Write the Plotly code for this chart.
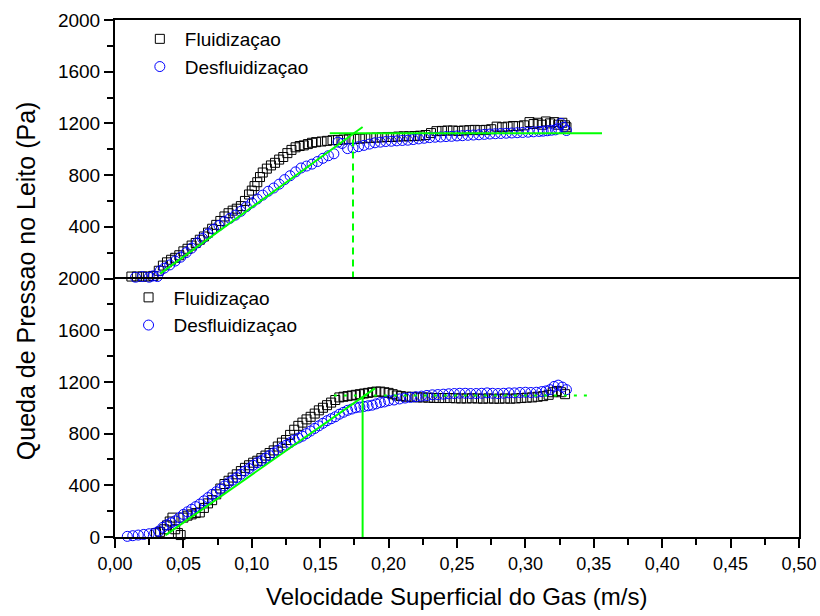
import plotly.graph_objects as go
from plotly.subplots import make_subplots

# ---------------- data ----------------
# Top panel - Fluidizacao (black squares)
top_flu_x = [0.012,0.016,0.020,0.024,0.028,0.032,0.035,0.038,0.041,0.044,0.047,0.050,0.053,0.056,0.059,0.062,
             0.065,0.068,0.071,0.074,0.077,0.080,0.083,0.086,0.089,0.092,0.095,0.098,0.100,0.102,0.104,0.106,
             0.108,0.111,0.114,0.117,0.120,0.123,0.126,0.129,0.132,0.135,0.138,0.141,0.144,0.147,0.151,0.155,
             0.159,0.163,0.167,0.171,0.175,0.179,0.183,0.187,0.191,0.195,0.199,0.203,0.207,0.211,0.215,0.219,
             0.223,0.227,0.231,0.235,0.239,0.243,0.247,0.251,0.255,0.259,0.263,0.267,0.271,0.275,0.279,0.283,
             0.287,0.291,0.295,0.299,0.303,0.306,0.309,0.312,0.315,0.318,0.321,0.324,0.327,0.329,0.330]
top_flu_y = [15,15,15,15,20,60,100,125,145,160,180,210,230,255,275,300,
             325,355,385,415,445,480,505,525,540,560,600,650,680,715,745,785,
             820,850,875,895,920,940,970,995,1015,1025,1030,1040,1050,1055,1060,1065,
             1070,1072,1075,1078,1080,1082,1085,1088,1090,1092,1095,1095,1098,1100,1100,1102,
             1105,1110,1125,1140,1142,1145,1145,1142,1145,1148,1150,1148,1150,1155,1175,1170,
             1175,1180,1178,1185,1210,1195,1205,1190,1215,1200,1210,1190,1205,1185,1170]

# Top panel - Desfluidizacao (blue circles)
top_des_x = [0.015,0.020,0.025,0.028,0.031,0.033,0.036,0.040,0.044,0.048,0.052,0.056,0.060,0.064,0.068,0.072,
             0.076,0.080,0.084,0.088,0.092,0.096,0.100,0.104,0.108,0.112,0.116,0.120,0.124,0.128,0.132,0.136,
             0.140,0.144,0.148,0.152,0.156,0.160,0.163,0.166,0.170,0.174,0.178,0.182,0.186,0.190,0.194,0.198,
             0.202,0.206,0.210,0.214,0.218,0.222,0.226,0.230,0.234,0.238,0.242,0.246,0.250,0.254,0.258,0.262,
             0.266,0.270,0.274,0.278,0.282,0.286,0.290,0.294,0.298,0.302,0.306,0.310,0.313,0.316,0.319,0.322,
             0.324,0.326,0.328,0.330]
top_des_y = [10,15,10,20,15,60,80,105,135,165,200,235,275,310,345,380,
             410,440,465,490,520,555,585,615,645,675,700,730,765,795,825,855,
             870,885,905,930,950,965,1055,1045,1005,1010,1020,1030,1040,1050,1055,1060,
             1062,1065,1068,1070,1075,1080,1085,1090,1093,1095,1098,1100,1103,1105,1108,1110,
             1112,1115,1118,1120,1122,1124,1126,1128,1130,1132,1135,1138,1140,1143,1147,1150,
             1160,1200,1170,1145]

# Bottom panel - Fluidizacao (black squares)
bot_flu_x = [0.030,0.033,0.036,0.038,0.040,0.042,0.044,0.046,0.048,0.050,0.053,0.056,0.059,0.062,0.065,0.068,
             0.071,0.074,0.077,0.080,0.083,0.086,0.089,0.092,0.095,0.098,0.101,0.104,0.107,0.110,0.113,0.116,
             0.119,0.122,0.125,0.128,0.131,0.134,0.137,0.140,0.143,0.146,0.149,0.152,0.155,0.158,0.161,0.164,
             0.167,0.170,0.173,0.176,0.179,0.182,0.185,0.188,0.191,0.194,0.197,0.200,0.203,0.206,0.209,0.213,
             0.217,0.221,0.225,0.229,0.233,0.237,0.241,0.245,0.249,0.253,0.257,0.261,0.265,0.269,0.273,0.277,
             0.281,0.285,0.289,0.293,0.297,0.301,0.305,0.309,0.313,0.317,0.320,0.323,0.326,0.329]
bot_flu_y = [30,40,60,90,120,150,60,30,15,150,165,175,185,190,225,260,
             285,330,375,410,435,460,485,510,535,555,575,590,610,630,650,670,
             700,730,750,790,830,860,885,910,930,955,980,1000,1020,1040,1060,1080,
             1085,1090,1095,1100,1105,1110,1115,1120,1125,1125,1120,1115,1105,1095,1090,1085,
             1085,1080,1080,1078,1076,1075,1075,1075,1073,1072,1072,1073,1072,1070,1072,1070,
             1070,1072,1070,1072,1075,1078,1080,1085,1090,1100,1120,1130,1120,1105]

# Bottom panel - Desfluidizacao (blue circles)
bot_des_x = [0.009,0.013,0.017,0.021,0.025,0.029,0.032,0.035,0.038,0.041,0.044,0.047,0.050,0.053,0.056,0.059,
             0.062,0.065,0.068,0.071,0.074,0.077,0.080,0.083,0.086,0.089,0.092,0.095,0.098,0.101,0.104,0.107,
             0.110,0.113,0.116,0.119,0.122,0.125,0.128,0.131,0.134,0.137,0.140,0.143,0.146,0.149,0.152,0.155,
             0.158,0.161,0.164,0.167,0.170,0.173,0.176,0.179,0.182,0.185,0.188,0.191,0.194,0.197,0.200,0.204,
             0.208,0.212,0.216,0.220,0.224,0.228,0.232,0.236,0.240,0.244,0.248,0.252,0.256,0.260,0.264,0.268,
             0.272,0.276,0.280,0.284,0.288,0.292,0.296,0.300,0.304,0.308,0.312,0.315,0.318,0.321,0.324,0.327,0.330]
bot_des_y = [5,10,15,20,25,30,45,75,95,110,125,150,175,195,215,235,
             255,280,305,330,350,370,395,420,440,460,485,510,530,555,575,590,
             610,630,650,670,690,710,730,750,765,780,800,820,840,860,880,900,
             915,930,950,965,980,990,1000,1005,1010,1015,1020,1030,1040,1045,1055,1060,
             1068,1075,1080,1085,1090,1095,1100,1102,1105,1108,1110,1112,1112,1110,1110,1112,
             1115,1112,1110,1112,1115,1115,1118,1120,1118,1120,1125,1130,1140,1165,1175,1160,1140]

# Green guide lines
top_fit_x, top_fit_y = [0.033, 0.181], [38, 1172]
top_hor_x, top_hor_y = [0.157, 0.356], [1123, 1123]
top_ver_x, top_ver_y = [0.174, 0.174], [0, 1123]
bot_fit_x, bot_fit_y = [0.037, 0.190], [15, 1150]
bot_ver_x, bot_ver_y = [0.181, 0.181], [-12, 1085]
bot_hor_x, bot_hor_y = [0.160, 0.350], [1095, 1095]

x_ticks = [0.00, 0.05, 0.10, 0.15, 0.20, 0.25, 0.30, 0.35, 0.40, 0.45, 0.50]
x_tick_labels = ["0,00", "0,05", "0,10", "0,15", "0,20", "0,25", "0,30", "0,35", "0,40", "0,45", "0,50"]
top_y_ticks = [400, 800, 1200, 1600, 2000]
bot_y_ticks = [0, 400, 800, 1200, 1600, 2000]

# ---------------- figure ----------------
FONT = "Liberation Sans"
GREEN = "#00ff00"
BLUE = "#0000ff"

fig = make_subplots(rows=2, cols=1, shared_xaxes=True, vertical_spacing=0)

def add_markers(x, y, row, name, symbol, color, legend, size):
    fig.add_trace(go.Scatter(
        x=x, y=y, mode="markers", name=name, legend=legend,
        marker=dict(symbol=symbol, size=size, color=color, line=dict(width=1)),
        cliponaxis=False, showlegend=True), row=row, col=1)

def add_line(x, y, row, dash):
    fig.add_trace(go.Scatter(
        x=x, y=y, mode="lines", showlegend=False,
        line=dict(color=GREEN, width=2, dash=dash), cliponaxis=False), row=row, col=1)

add_markers(top_flu_x, top_flu_y, 1, "Fluidizaçao", "square-open", "black", "legend", 9)
add_markers(top_des_x, top_des_y, 1, "Desfluidizaçao", "circle-open", BLUE, "legend", 10)
add_line(top_fit_x, top_fit_y, 1, "solid")
add_line(top_hor_x, top_hor_y, 1, "solid")
add_line(top_ver_x, top_ver_y, 1, "7px,5px")

add_markers(bot_flu_x, bot_flu_y, 2, "Fluidizaçao", "square-open", "black", "legend2", 9)
add_markers(bot_des_x, bot_des_y, 2, "Desfluidizaçao", "circle-open", BLUE, "legend2", 10)
add_line(bot_fit_x, bot_fit_y, 2, "solid")
add_line(bot_ver_x, bot_ver_y, 2, "solid")
add_line(bot_hor_x, bot_hor_y, 2, "3px,7px")

axis_common = dict(showline=True, linecolor="black", linewidth=2, automargin=False,
                   showgrid=False, zeroline=False)

fig.update_xaxes(range=[0, 0.5], **axis_common)
fig.update_xaxes(row=1, col=1, ticks="", showticklabels=False, side="top", mirror=False)
fig.update_xaxes(row=2, col=1, mirror=True, ticks="outside", ticklen=9, tickwidth=2, tickcolor="black",
                 tickvals=x_ticks, ticktext=x_tick_labels,
                 tickfont=dict(family=FONT, size=18, color="black"),
                 minor=dict(dtick=0.025, tick0=0, ticks="outside", ticklen=6, tickwidth=2, tickcolor="black"))
fig.update_yaxes(range=[0, 2000], mirror=True, ticks="outside", ticklen=9, tickwidth=2, tickcolor="black",
                 tickfont=dict(family=FONT, size=19, color="black"),
                 minor=dict(dtick=200, tick0=0, ticks="outside", ticklen=6, tickwidth=2, tickcolor="black"),
                 **axis_common)
fig.update_yaxes(row=1, col=1, tickvals=top_y_ticks)
fig.update_yaxes(row=2, col=1, tickvals=bot_y_ticks)

legend_style = dict(font=dict(family=FONT, size=19, color="black"), bgcolor="rgba(0,0,0,0)",
                    borderwidth=0, itemwidth=40, tracegroupgap=0, xanchor="left", yanchor="top")
fig.update_layout(
    width=820, height=616, autosize=False,
    margin=dict(l=115, r=21, t=20, b=79, autoexpand=False),
    paper_bgcolor="white", plot_bgcolor="white",
    legend=dict(x=0.029, y=1.0, **legend_style),
    legend2=dict(x=0.0125, y=0.5, **legend_style),
    annotations=[
        dict(text="Queda de Pressao no Leito (Pa)", xref="paper", yref="paper",
             x=-0.130, y=0.495, textangle=-90, showarrow=False,
             xanchor="center", yanchor="middle", font=dict(family=FONT, size=25, color="black")),
        dict(text="Velocidade Superficial do Gas (m/s)", xref="paper", yref="paper",
             x=0.5, y=-0.116, showarrow=False,
             xanchor="center", yanchor="middle", font=dict(family=FONT, size=24, color="black")),
    ],
)

fig.write_html("out.html")
